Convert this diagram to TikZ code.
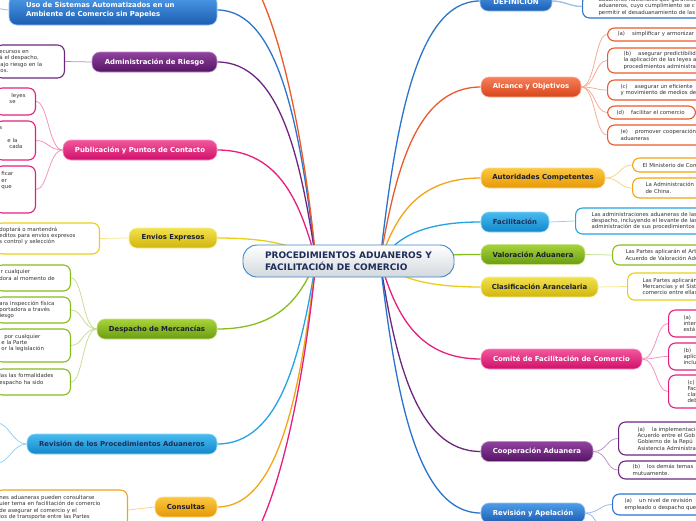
\documentclass[tikz,border=0pt]{standalone}
\usepackage{fontspec}
\setmainfont{DejaVu Sans}
\usetikzlibrary{backgrounds}
\definecolor{blueT}{HTML}{4E9DE8}\definecolor{blueB}{HTML}{1C5DB3}\definecolor{blueL}{HTML}{2B74CC}
\definecolor{oraT}{HTML}{F6805A}\definecolor{oraB}{HTML}{D8441A}\definecolor{oraL}{HTML}{EB5A2B}
\definecolor{golT}{HTML}{FBC840}\definecolor{golB}{HTML}{E69806}\definecolor{golL}{HTML}{F2A516}
\definecolor{cyaT}{HTML}{48BBEF}\definecolor{cyaB}{HTML}{1388CA}\definecolor{cyaL}{HTML}{23A3E2}
\definecolor{grnT}{HTML}{A8D33C}\definecolor{grnB}{HTML}{6A9D10}\definecolor{grnL}{HTML}{86BC1E}
\definecolor{yelT}{HTML}{F3E24E}\definecolor{yelB}{HTML}{D0B50C}\definecolor{yelL}{HTML}{E8CE18}
\definecolor{magT}{HTML}{F2579C}\definecolor{magB}{HTML}{D00F6A}\definecolor{magL}{HTML}{E51F7E}
\definecolor{purT}{HTML}{90429F}\definecolor{purB}{HTML}{551464}\definecolor{purL}{HTML}{6E2580}
\definecolor{darkT}{HTML}{1A1F2E}\definecolor{leafT}{HTML}{333333}
\definecolor{navyT}{HTML}{1F2D5A}\definecolor{ctrB}{HTML}{D3D8DD}\definecolor{ctrL}{HTML}{3A86C8}
\begin{document}
\begin{tikzpicture}[x=1pt,y=-1pt,
  pill/.style={rounded corners=8pt, minimum height=20pt, inner sep=0pt, line width=0.6pt, font=\fontsize{6.9}{9}\selectfont\bfseries},
  pB/.style={pill, draw=blueT!60!white, top color=blueT, bottom color=blueB},
  pO/.style={pill, draw=oraT!60!white, top color=oraT, bottom color=oraB},
  pG/.style={pill, draw=golT!60!white, top color=golT, bottom color=golB},
  pC/.style={pill, draw=cyaT!60!white, top color=cyaT, bottom color=cyaB},
  pV/.style={pill, draw=grnT!60!white, top color=grnT, bottom color=grnB},
  pY/.style={pill, draw=yelT!60!white, top color=yelT, bottom color=yelB},
  pM/.style={pill, draw=magT!60!white, top color=magT, bottom color=magB},
  pP/.style={pill, draw=purT!60!white, top color=purT, bottom color=purB},
  wt/.style={text=white}, dk/.style={text=darkT},
  leaf/.style={draw, fill=white, line width=1.1pt, rounded corners=7pt, font=\fontsize{5.4}{6.3}\selectfont, align=left, inner ysep=0pt, text=leafT},
  leafR/.style={leaf, anchor=west, text width=170pt},
  leafL/.style={leaf, anchor=east, inner xsep=4pt},
  mc/.style={line width=1.3pt},
  lc/.style={line width=0.75pt}]
\useasboundingbox (0,0) rectangle (696,520);
\clip (0,0) rectangle (696,520);

% central node
\node[rounded corners=14pt, minimum width=211pt, minimum height=32pt, top color=white, bottom color=ctrB, draw=ctrL, line width=0.9pt, text=navyT, align=left, font=\fontsize{9}{11.7}\selectfont\bfseries] (ctr) at (348.5,261) {PROCEDIMIENTOS ADUANEROS Y\\FACILITACIÓN DE COMERCIO};
\coordinate (sR) at (380,261);
\coordinate (sL) at (316,261);

% right topics
\node[pB,wt,minimum width=72pt] (def) at (516,1) {DEFINICIÓN};
\node[pO,wt,minimum width=100pt] (alc) at (531,87) {Alcance y Objetivos};
\node[pG,dk,minimum width=124pt] (aut) at (543,178) {Autoridades Competentes};
\node[pC,text=navyT,minimum width=68pt] (fac) at (515,222) {Facilitación};
\node[pV,dk,minimum width=104pt] (val) at (533,254.5) {Valoración Aduanera};
\node[pY,dk,minimum width=117pt] (cla) at (539.5,287) {Clasificación Arancelaria};
\node[pM,wt,minimum width=161pt] (com) at (561.5,359) {Comité de Facilitación de Comercio};
\node[pP,wt,minimum width=112pt] (coo) at (537,451.5) {Cooperación Aduanera};
\node[pB,wt,minimum width=104pt] (rev) at (533,513) {Revisión y Apelación};

% left topics
\node[pB,wt,minimum height=30pt,text width=174pt,align=left,inner xsep=17pt] (uso) at (113,10) {Uso de Sistemas Automatizados en un\\Ambiente de Comercio sin Papeles};
\node[pP,wt,minimum width=125pt] (adm) at (154.5,62) {Administración de Riesgo};
\node[pM,wt,minimum width=154pt] (pub) at (140,150) {Publicación y Puntos de Contacto};
\node[pY,dk,minimum width=88pt] (env) at (173,238) {Envios Expresos};
\node[pV,dk,minimum width=120pt] (des) at (157,329) {Despacho de Mercancías};
\node[pC,text=navyT,minimum width=190pt] (rpa) at (122,444) {Revisión de los Procedimientos Aduaneros};
\node[pG,dk,minimum width=62pt] (con) at (186,507) {Consultas};

% right leaves
\node[leafR,draw=blueL,inner xsep=16pt,minimum height=23pt] (defL) at (582,6.5) {aduaneros nacionales que garanticen\\aduaneros, cuyo cumplimiento se c\\permitir el desaduanamiento de las};
\node[leafR,draw=oraL,inner xsep=10pt,minimum height=13pt] (alcA) at (607,34.5) {(a)\hspace{7pt}simplificar y armonizar lo};
\node[leafR,draw=oraL,inner xsep=16pt,minimum height=25pt] (alcB) at (607,60.5) {(b)\hspace{7pt}asegurar predictibilidad\\la aplicación de las leyes a\\procedimientos administra};
\node[leafR,draw=oraL,inner xsep=13pt,minimum height=20pt] (alcC) at (607,90) {(c)\hspace{7pt}asegurar un eficiente\\y movimiento de medios de};
\node[leafR,draw=oraL,inner xsep=9pt,minimum height=13pt,text width=70pt] (alcD) at (607,112.5) {(d)\hspace{7pt}facilitar el comercio};
\node[leafR,draw=oraL,inner xsep=13pt,minimum height=20pt] (alcE) at (607,135) {(e)\hspace{7pt}promover cooperación\\aduaneras};
\node[leafR,draw=golL,inner xsep=10pt,minimum height=14pt] (autA) at (632,165) {El Ministerio de Comercio};
\node[leafR,draw=golL,inner xsep=13pt,minimum height=20pt] (autB) at (632,188) {La Administración General\\de China.};
\node[leafR,draw=cyaL,inner xsep=16pt,minimum height=26pt] (facL) at (575,221) {Las administraciones aduaneras de las\\despacho, incluyendo el levante de las\\administración de sus procedimientos};
\node[leafR,draw=grnL,inner xsep=13pt,minimum height=20pt] (valL) at (612,255) {Las Partes aplicarán el Artículo\\Acuerdo de Valoración Aduanera};
\node[leafR,draw=yelL,inner xsep=15pt,minimum height=27pt] (claL) at (627,286.5) {Las Partes aplicarán\\Mercancías y el Sistema\\comercio entre ellas};
\node[leafR,draw=magL,inner xsep=15pt,minimum height=27pt] (comA) at (668,323.5) {(a)\\inter\\está};
\node[leafR,draw=magL,inner xsep=15pt,minimum height=27pt] (comB) at (668,356.5) {(b)\\aplic\\inclu};
\node[leafR,draw=magL,inner xsep=19pt,minimum height=33pt] (comC) at (668,391.5) {(c)\\Fac\\clas\\deb};
\node[leafR,draw=purL,inner xsep=19pt,minimum height=33pt] (cooA) at (618,438.5) {(a)\hspace{7pt}la implementación\\Acuerdo entre el Gob\\Gobierno de la Repú\\Asistencia Administra};
\node[leafR,draw=purL,inner xsep=14pt,minimum height=18pt] (cooB) at (618,470) {(b)\hspace{7pt}los demás temas\\mutuamente.};
\node[leafR,draw=blueL,inner xsep=12pt,minimum height=21pt] (revA) at (612,504.5) {(a)\hspace{7pt}un nivel de revisión\\empleado o despacho que};

% left leaves
\node[leafL,draw=purL,minimum height=33pt,text width=61pt] (admL) at (65,61.5) {ecursos en\\á el despacho,\\\hspace*{1pt}ajo riesgo en la\\\hspace*{1pt}os.};
\node[leafL,draw=magL,minimum height=27pt,text width=32pt] (pubA) at (36,101.5) {\hspace*{12pt}leyes\\\hspace*{10pt}se\\\mbox{}};
\node[leafL,draw=magL,minimum height=39pt,text width=32pt] (pubB) at (36,140.5) {s\\\mbox{}\\\hspace*{8pt}e la\\\hspace*{10pt}cada\\\mbox{}};
\node[leafL,draw=magL,minimum height=47pt,text width=32pt] (pubC) at (36,189.5) {\hspace*{2pt}ficar\\\hspace*{2pt}er\\\hspace*{2pt}que\\\mbox{}\\\mbox{}\\\mbox{}};
\node[leafL,draw=yelL,minimum height=31pt,text width=96pt] (envL) at (100,238.5) {doptará o mantendrá\\editos para envíos expresos\\s control y selección\\\mbox{}};
\node[leafL,draw=grnL,minimum height=26pt,text width=67pt] (desA) at (71,278) {\hspace*{1.5pt}r cualquier\\dora al momento de\\\mbox{}};
\node[leafL,draw=grnL,minimum height=26pt,text width=67pt] (desB) at (71,310) {ara inspección física\\portadora a través\\\hspace*{-2pt}riesgo};
\node[leafL,draw=grnL,minimum height=33pt,text width=67pt] (desC) at (71,345.5) {\hspace*{5pt}por cualquier\\\hspace*{2pt}e la Parte\\\hspace*{2pt}or la legislación\\\mbox{}};
\node[leafL,draw=grnL,minimum height=26pt,text width=67pt] (desD) at (71,382) {las las formalidades\\espacho ha sido\\\mbox{}};
\node[leafL,draw=golL,minimum height=40pt,text width=124pt] (conL) at (128,510) {nes aduaneras pueden consultarse\\uier tema en facilitación de comercio\\de asegurar el comercio y el\\ios de transporte entre las Partes\\\mbox{}};

% free ends
\coordinate (usoX) at (-6,8);
\coordinate (rpaX1) at (-3,423);
\coordinate (rpaX2) at (-3,463);
\coordinate (revX) at (612,545);
\coordinate (offT) at (217,-50);
\coordinate (offB) at (217,570);

\begin{scope}[on background layer]
\clip (0,0) rectangle (696,520);
\fill[white] (-5,-5) rectangle (701,525);
% main connectors right
\draw[mc,blueL] (sR) .. controls (395,131) and (415,1) .. (def.west);
\draw[mc,oraL] (sR) .. controls (395,174) and (415,87) .. (alc.west);
\draw[mc,golL] (sR) .. controls (395,219.5) and (415,178) .. (aut.west);
\draw[mc,cyaL] (sR) .. controls (395,241.5) and (415,222) .. (fac.west);
\draw[mc,grnL] (sR) .. controls (395,257.75) and (415,254.5) .. (val.west);
\draw[mc,yelL] (sR) .. controls (395,274) and (415,287) .. (cla.west);
\draw[mc,magL] (sR) .. controls (395,310) and (415,359) .. (com.west);
\draw[mc,purL] (sR) .. controls (395,356) and (415,451.5) .. (coo.west);
\draw[mc,blueL] (sR) .. controls (395,387) and (415,513) .. (rev.west);
% main connectors left
\draw[mc,blueL] (sL) .. controls (301,135.5) and (281,10) .. (uso.east);
\draw[mc,purL] (sL) .. controls (301,161.5) and (281,62) .. (adm.east);
\draw[mc,magL] (sL) .. controls (301,205.5) and (281,150) .. (pub.east);
\draw[mc,yelL] (sL) .. controls (301,249.5) and (281,238) .. (env.east);
\draw[mc,grnL] (sL) .. controls (301,295) and (281,329) .. (des.east);
\draw[mc,cyaL] (sL) .. controls (301,352.5) and (281,444) .. (rpa.east);
\draw[mc,golL] (sL) .. controls (301,384) and (281,507) .. (con.east);
\draw[mc,oraL] (sL) .. controls (301,105.5) and (265,-50) .. (offT);
\draw[mc,magL] (sL) .. controls (301,415.5) and (265,570) .. (offB);
% leaf connectors right
\draw[lc,blueL!45!white,line width=1.4pt] (def.east) .. controls +(12,0) and +(-12,0) .. (defL.west);
\foreach \l in {alcA,alcB,alcC,alcD,alcE}
  \draw[lc,oraL!50!white] (alc.east) .. controls +(14,0) and +(-12,0) .. (\l.west);
\foreach \l in {autA,autB}
  \draw[lc,golL!50!white] (aut.east) .. controls +(14,0) and +(-12,0) .. (\l.west);
\draw[lc,cyaL!50!white] (fac.east) -- (facL.west);
\draw[lc,grnL!50!white] (val.east) -- (valL.west);
\draw[lc,yelL!50!white] (cla.east) -- (claL.west);
\foreach \l in {comA,comB,comC}
  \draw[lc,magL!50!white] (com.east) .. controls +(14,0) and +(-12,0) .. (\l.west);
\foreach \l in {cooA,cooB}
  \draw[lc,purL!50!white] (coo.east) .. controls +(14,0) and +(-12,0) .. (\l.west);
\draw[lc,blueL!50!white] (rev.east) .. controls +(14,0) and +(-12,0) .. (revA.west);
\draw[lc,blueL!50!white] (rev.east) .. controls +(14,0) and +(-12,0) .. (revX);
% leaf connectors left
\draw[lc,blueL!50!white] (uso.west) .. controls +(-4,0) and +(4,0) .. (usoX);
\draw[lc,purL!50!white] (adm.west) -- (admL.east);
\foreach \l in {pubA,pubB,pubC}
  \draw[lc,magL!50!white] (pub.west) .. controls +(-14,0) and +(12,0) .. (\l.east);
\draw[lc,yelL!50!white] (env.west) -- (envL.east);
\foreach \l in {desA,desB,desC,desD}
  \draw[lc,grnL!50!white] (des.west) .. controls +(-14,0) and +(12,0) .. (\l.east);
\draw[lc,cyaL!50!white] (rpa.west) .. controls +(-14,0) and +(12,0) .. (rpaX1);
\draw[lc,cyaL!50!white] (rpa.west) .. controls +(-14,0) and +(12,0) .. (rpaX2);
\draw[lc,golL!50!white] (con.west) -- (conL.east);
\end{scope}
\end{tikzpicture}
\end{document}
